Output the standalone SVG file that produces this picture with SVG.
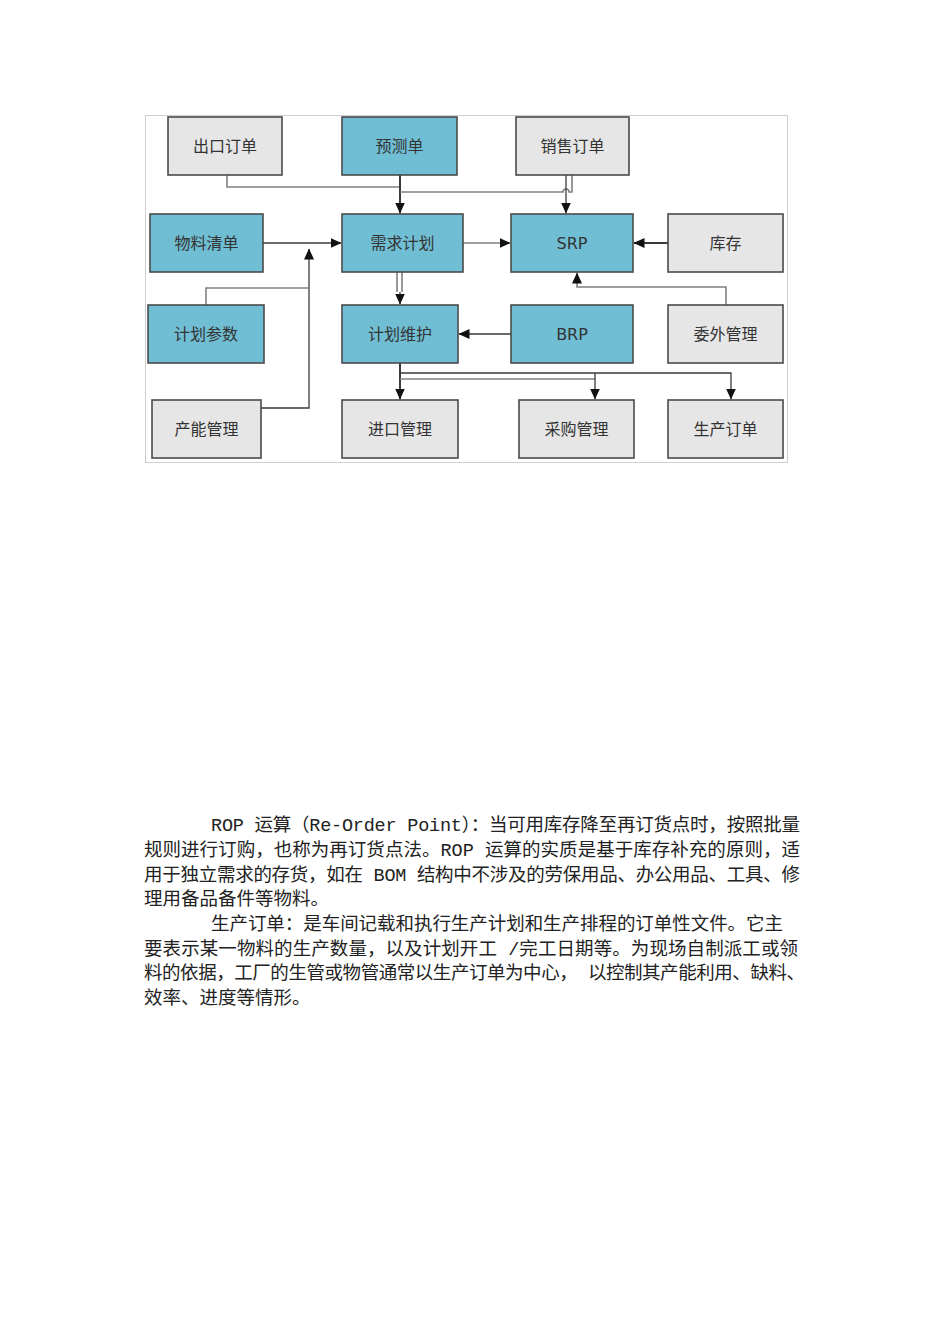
<svg xmlns="http://www.w3.org/2000/svg" width="950" height="1344" viewBox="0 0 950 1344">
<style>
.bx{stroke:#4a4a4a;stroke-width:1.6}
.blue{fill:#70bed3}
.gray{fill:#e6e6e6}
.lb{font-family:"DejaVu Sans","Noto Sans CJK SC",sans-serif;font-size:16px;fill:#333;text-anchor:middle;dominant-baseline:central}
.c{fill:none;stroke:#3a3a3a;stroke-width:1.3}
.cg{fill:none;stroke:#808080;stroke-width:1.6}
.t{font-family:"Liberation Mono","Noto Sans CJK SC",monospace;font-size:18.5px;fill:#222}
</style>
<defs>
<marker id="ar" markerUnits="userSpaceOnUse" markerWidth="12" markerHeight="12" refX="10.5" refY="6" orient="auto">
<path d="M0,1 L11,6 L0,11 Z" fill="#111"/>
</marker>
</defs>
<rect x="145.5" y="115.5" width="642" height="347" fill="#fff" stroke="#cfcfcf" stroke-width="1"/>
<g id="connectors">
<path class="cg" d="M227,175 V187 H400"/>
<path class="c" d="M400,175 V213" marker-end="url(#ar)" style="stroke-width:2"/>
<path class="cg" d="M400,192 H563 A3,3 0 0 1 569,192 H572 V175"/>
<path class="c" d="M566,175 V213" marker-end="url(#ar)"/>
<path class="c" d="M263,243 H341" marker-end="url(#ar)"/>
<path class="c" d="M261,408 H309 V249" marker-end="url(#ar)"/>
<path class="cg" d="M206,305 V288 H309"/>
<path class="cg" d="M463,243 H510" marker-end="url(#ar)"/>
<path class="c" d="M668,243 H634" marker-end="url(#ar)" style="stroke-width:2"/>
<path class="cg" d="M726,305 V287 H577 V273" marker-end="url(#ar)"/>
<path class="cg" d="M397,272 V292 M402,272 V292"/>
<path class="c" d="M400,292 V304" marker-end="url(#ar)"/>
<path class="c" d="M511,334 H459" marker-end="url(#ar)"/>
<path class="c" d="M400,363 V399" marker-end="url(#ar)" style="stroke-width:2"/>
<path class="c" d="M400,373 H731 V399" marker-end="url(#ar)"/>
<path class="cg" d="M400,379 H595"/>
<path class="c" d="M595,373 V399" marker-end="url(#ar)"/>
</g>
<g id="n1"><rect class="bx gray" x="168" y="117" width="114" height="58"/><text class="lb" x="225" y="146">出口订单</text></g>
<g id="n2"><rect class="bx blue" x="342" y="117" width="115" height="58"/><text class="lb" x="399.5" y="146">预测单</text></g>
<g id="n3"><rect class="bx gray" x="516" y="117" width="113" height="58"/><text class="lb" x="572.5" y="146">销售订单</text></g>
<g id="n4"><rect class="bx blue" x="150" y="214" width="113" height="58"/><text class="lb" x="206.5" y="243">物料清单</text></g>
<g id="n5"><rect class="bx blue" x="342" y="214" width="121" height="58"/><text class="lb" x="402.5" y="243">需求计划</text></g>
<g id="n6"><rect class="bx blue" x="511" y="214" width="122" height="58"/><text class="lb" x="572" y="243">SRP</text></g>
<g id="n7"><rect class="bx gray" x="668" y="214" width="115" height="58"/><text class="lb" x="725.5" y="243">库存</text></g>
<g id="n8"><rect class="bx blue" x="148" y="305" width="116" height="58"/><text class="lb" x="206" y="334">计划参数</text></g>
<g id="n9"><rect class="bx blue" x="342" y="305" width="116" height="58"/><text class="lb" x="400" y="334">计划维护</text></g>
<g id="n10"><rect class="bx blue" x="511" y="305" width="122" height="58"/><text class="lb" x="572" y="334">BRP</text></g>
<g id="n11"><rect class="bx gray" x="668" y="305" width="115" height="58"/><text class="lb" x="725.5" y="334">委外管理</text></g>
<g id="n12"><rect class="bx gray" x="152" y="400" width="109" height="58"/><text class="lb" x="206.5" y="429">产能管理</text></g>
<g id="n13"><rect class="bx gray" x="342" y="400" width="116" height="58"/><text class="lb" x="400" y="429">进口管理</text></g>
<g id="n14"><rect class="bx gray" x="519" y="400" width="115" height="58"/><text class="lb" x="576.5" y="429">采购管理</text></g>
<g id="n15"><rect class="bx gray" x="668" y="400" width="115" height="58"/><text class="lb" x="725.5" y="429">生产订单</text></g>
<g id="body">
<text class="t" x="211" y="831" textLength="589" lengthAdjust="spacing">ROP 运算（Re-Order Point）：当可用库存降至再订货点时，按照批量</text>
<text class="t" x="144" y="856" textLength="656" lengthAdjust="spacing">规则进行订购，也称为再订货点法。ROP 运算的实质是基于库存补充的原则，适</text>
<text class="t" x="144" y="880.5" textLength="656" lengthAdjust="spacing">用于独立需求的存货，如在 BOM 结构中不涉及的劳保用品、办公用品、工具、修</text>
<text class="t" x="144" y="905">理用备品备件等物料。</text>
<text class="t" x="211" y="930" textLength="572" lengthAdjust="spacing">生产订单：是车间记载和执行生产计划和生产排程的订单性文件。它主</text>
<text class="t" x="144" y="954.5" textLength="654" lengthAdjust="spacing">要表示某一物料的生产数量，以及计划开工 /完工日期等。为现场自制派工或领</text>
<text class="t" x="144" y="979" textLength="661" lengthAdjust="spacing">料的依据，工厂的生管或物管通常以生产订单为中心， 以控制其产能利用、缺料、</text>
<text class="t" x="144" y="1003.5">效率、进度等情形。</text>
</g>
</svg>
